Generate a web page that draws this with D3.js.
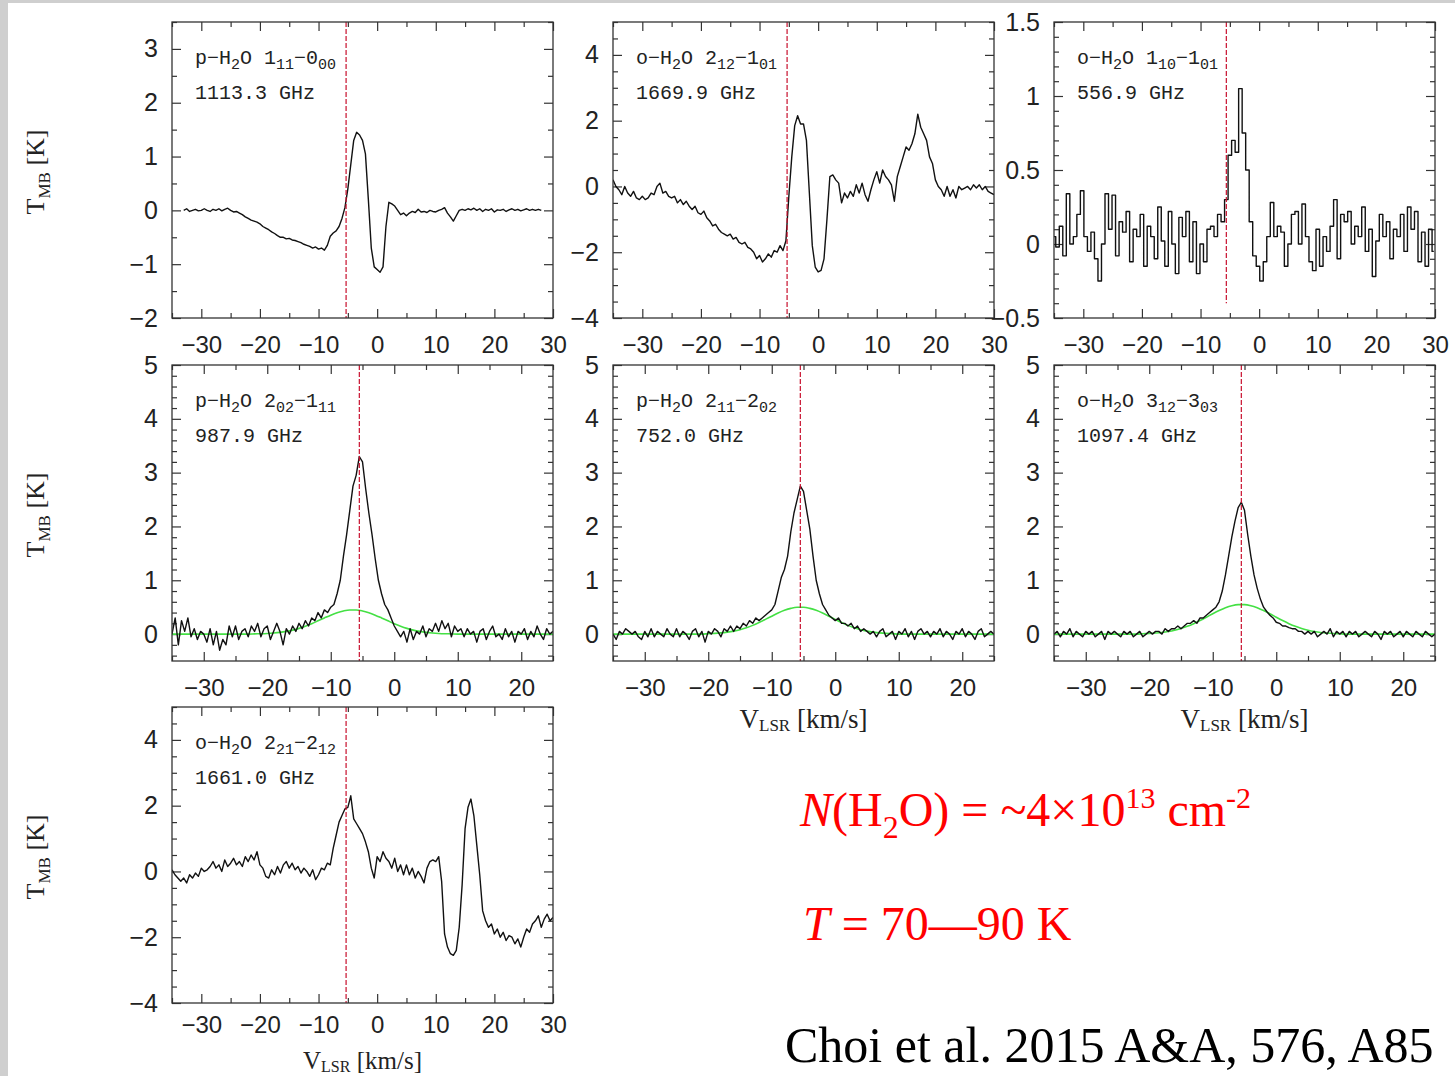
<!DOCTYPE html>
<html><head><meta charset="utf-8">
<script src="https://cdn.jsdelivr.net/npm/d3@7"></script>
<style>
body{margin:0;background:#fff;}
svg{display:block;}
</style></head><body>
<svg id="c" width="1455" height="1076"></svg>
<script>
// ---------------- DATA ----------------
const lineLabels = ["p−H_{2}O 1_{11}−0_{00}", "o−H_{2}O 2_{12}−1_{01}", "o−H_{2}O 1_{10}−1_{01}",
  "p−H_{2}O 2_{02}−1_{11}", "p−H_{2}O 2_{11}−2_{02}", "o−H_{2}O 3_{12}−3_{03}", "o−H_{2}O 2_{21}−2_{12}"];
const lineFreqs = ["1113.3 GHz", "1669.9 GHz", "556.9 GHz", "987.9 GHz", "752.0 GHz", "1097.4 GHz", "1661.0 GHz"];
const sourceVel = [-5.3, -5.3, -5.6, -5.5, -5.5, -5.5, -5.3];
const velDomains = [[-35, 30], [-35, 30], [-35, 30], [-35, 25], [-35, 25], [-35, 25], [-35, 30]];
const tempDomains = [[-2, 3.5], [-4, 5], [-0.5, 1.5], [-0.5, 5], [-0.5, 5], [-0.5, 5], [-4, 5]];
const velTicks = [[-30, -20, -10, 0, 10, 20, 30], [-30, -20, -10, 0, 10, 20, 30], [-30, -20, -10, 0, 10, 20, 30],
  [-30, -20, -10, 0, 10, 20], [-30, -20, -10, 0, 10, 20], [-30, -20, -10, 0, 10, 20], [-30, -20, -10, 0, 10, 20, 30]];
const tempTicks = [[-2, -1, 0, 1, 2, 3], [-4, -2, 0, 2, 4], [-0.5, 0, 0.5, 1, 1.5],
  [0, 1, 2, 3, 4, 5], [0, 1, 2, 3, 4, 5], [0, 1, 2, 3, 4, 5], [-4, -2, 0, 2, 4]];
const tempMinorStep = [0.5, 0.5, 0.1, 0.2, 0.2, 0.2, 0.5];
const velMinorStep = 5;

// spectra: first channel velocity and channel width (km/s), values T_MB [K]
const specStart = [-33, -35, -35, -35, -35, -35, -35];
const specStep = [0.5, 0.5, 0.6, 0.5, 0.5, 0.5, 0.5];

const spec1 = [
  0.0, 0.03, -0.02, 0.0, 0.02, -0.01, 0.0, 0.03, 0.0, -0.02, 0.02, 0.0, 0.03, -0.01, 0.02, 0.04, 0.0, -0.03, -0.02, -0.05,
  -0.08, -0.12, -0.15, -0.18, -0.2, -0.22, -0.25, -0.3, -0.33, -0.36, -0.4, -0.43, -0.47, -0.5, -0.5, -0.53, -0.52, -0.55, -0.56, -0.58,
  -0.6, -0.63, -0.65, -0.67, -0.7, -0.68, -0.72, -0.7, -0.74, -0.65, -0.48, -0.42, -0.38, -0.3, -0.15, 0.05, 0.4, 0.85, 1.3, 1.45,
  1.4, 1.3, 1.05, 0.2, -0.7, -1.05, -1.1, -1.15, -1.05, -0.3, 0.15, 0.12, 0.08, 0.0, -0.08, -0.05, -0.1, -0.05, -0.02, -0.04,
  0.02, -0.03, -0.02, -0.04, 0.0, -0.02, -0.03, 0.0, 0.02, 0.05, -0.05, -0.12, -0.2, -0.1, 0.0, 0.02, 0.0, 0.03, 0.01, 0.04,
  0.0, 0.03, -0.02, 0.02, 0.0, 0.03, -0.03, 0.01, 0.0, 0.02, -0.02, 0.01, 0.03, 0.0, 0.02, -0.01, 0.01, 0.03, 0.0, 0.02,
  0.0, 0.02, 0.0];

const spec2 = [
  0.2, 0.0, -0.1, -0.25, 0.0, -0.2, -0.3, -0.15, -0.35, -0.4, -0.3, -0.4, -0.35, -0.2, -0.25, 0.0, 0.1, -0.2, -0.15, -0.3,
  -0.35, -0.3, -0.5, -0.4, -0.55, -0.45, -0.6, -0.7, -0.6, -0.8, -0.85, -0.75, -0.95, -1.05, -1.2, -1.15, -1.3, -1.4, -1.45, -1.5,
  -1.45, -1.6, -1.55, -1.7, -1.75, -1.7, -1.85, -1.9, -2.0, -2.2, -2.1, -2.3, -2.2, -2.05, -2.15, -1.95, -2.0, -1.8, -1.95, -1.65,
  -0.3, 0.9, 1.85, 2.15, 1.9, 1.9, 1.4, -0.2, -1.8, -2.45, -2.6, -2.55, -2.2, -1.0, 0.3, 0.35, 0.2, 0.1, -0.5, -0.2,
  -0.35, -0.15, -0.3, 0.05, -0.2, 0.1, -0.25, -0.45, -0.1, 0.2, 0.45, 0.1, 0.5, 0.3, 0.2, 0.05, -0.45, 0.3, 0.6, 0.9,
  1.2, 1.1, 1.3, 1.6, 2.2, 1.8, 1.6, 1.4, 0.9, 0.7, 0.2, 0.0, -0.1, -0.3, 0.0, -0.3, -0.1, -0.35, 0.0, -0.1,
  -0.05, 0.0, -0.1, 0.05, -0.05, 0.05, -0.1, 0.0, -0.15, -0.2,
  -0.25];

const spec3 = [
  0.05, -0.02, 0.12, -0.08, 0.34, 0.0, 0.05, 0.2, 0.36, 0.05,
  -0.05, 0.08, -0.1, -0.25, 0.0, 0.34, 0.1, 0.33, -0.08, 0.15,
  0.08, 0.22, -0.12, 0.1, 0.05, 0.2, -0.15, 0.12, 0.05, -0.1,
  0.25, 0.02, -0.15, 0.22, 0.0, -0.2, 0.18, 0.05, 0.22, -0.12,
  0.15, -0.2, 0.0, -0.12, 0.1, 0.12, 0.05, 0.2, 0.15, 0.3,
  0.6, 0.7, 0.62, 1.05, 0.75, 0.5, 0.15, -0.08, -0.15, -0.25,
  -0.12, 0.05, 0.28, 0.05, 0.12, 0.08, -0.15, 0.0, 0.2, 0.22,
  0.0, 0.27, 0.05, -0.12, -0.18, 0.1, -0.15, 0.05, -0.05, 0.12,
  0.3, -0.1, 0.2, 0.15, 0.22, 0.0, 0.12, 0.05, 0.25, -0.05,
  0.1, -0.22, 0.02, 0.2, 0.05, 0.15, -0.1, 0.1, 0.05, 0.2,
  -0.05, 0.25, 0.1, 0.22, -0.12, 0.08, -0.15, 0.1, -0.05];

const spec4 = [
  0.0, 0.3, -0.2, 0.25, 0.05, 0.3, -0.05, 0.1, -0.1, 0.05, 0.0, -0.15, 0.1, -0.2, 0.05, -0.3, -0.1, -0.2, 0.15, -0.05,
  0.15, -0.1, 0.05, 0.1, -0.05, 0.15, 0.05, 0.2, -0.05, 0.1, 0.15, -0.1, 0.05, 0.2, 0.05, -0.2, 0.1, 0.0, 0.15, 0.05,
  0.2, 0.1, 0.25, 0.15, 0.3, 0.25, 0.4, 0.3, 0.45, 0.4, 0.5, 0.55, 0.75, 1.0, 1.45, 1.85, 2.3, 2.75, 2.95, 3.3,
  3.2, 2.7, 2.25, 1.85, 1.4, 1.0, 0.75, 0.55, 0.45, 0.3, 0.15, 0.05, -0.05, 0.05, -0.15, 0.1, -0.1, 0.05, 0.0, 0.15,
  -0.05, 0.1, 0.05, 0.2, 0.05, 0.25, 0.1, 0.2, -0.05, 0.15, 0.05, 0.1, -0.05, 0.1, 0.0, 0.05, -0.15, 0.05, 0.1, -0.1,
  0.05, 0.15, -0.05, 0.0, -0.1, 0.1, -0.05, 0.05, -0.15, 0.05, 0.0, 0.1, -0.1, 0.05, -0.05, 0.15, 0.0, -0.1, 0.1, 0.0,
  0.05];

const spec5 = [
  0.0, -0.1, 0.05, 0.0, 0.1, 0.05, 0.0, 0.05, -0.05, -0.1, 0.05, -0.05, 0.1, -0.05, 0.05, 0.0, -0.05, 0.1, 0.0, -0.05,
  0.1, -0.05, 0.05, 0.0, -0.1, 0.05, 0.1, -0.05, 0.05, -0.15, 0.05, 0.0, 0.1, 0.05, -0.05, 0.1, 0.05, 0.15, 0.05, 0.15,
  0.1, 0.2, 0.15, 0.25, 0.2, 0.3, 0.25, 0.3, 0.35, 0.4, 0.45, 0.55, 0.8, 1.05, 1.2, 1.45, 1.9, 2.25, 2.5, 2.75,
  2.65, 2.3, 1.95, 1.45, 1.0, 0.75, 0.55, 0.45, 0.35, 0.3, 0.25, 0.3, 0.2, 0.2, 0.15, 0.2, 0.1, 0.15, 0.05, 0.1,
  0.05, 0.0, 0.05, -0.05, 0.05, 0.1, -0.05, 0.0, 0.05, -0.1, 0.05, 0.0, 0.1, -0.05, 0.05, -0.1, 0.05, 0.1, 0.0, 0.05,
  -0.05, 0.05, 0.0, 0.1, -0.05, 0.05, 0.0, -0.1, 0.05, 0.0, 0.1, -0.05, 0.05, 0.0, -0.1, 0.05, 0.1, -0.05, 0.0, 0.05,
  0.0];

const spec6 = [
  0.0, 0.05, -0.05, 0.05, 0.0, 0.1, -0.05, 0.05, 0.0, -0.05, 0.05, 0.0, 0.05, -0.05, 0.0, 0.05, -0.1, 0.05, 0.0, 0.05,
  0.0, -0.05, 0.05, 0.0, 0.05, -0.05, 0.0, 0.05, -0.05, 0.0, 0.05, 0.0, 0.05, 0.05, 0.0, 0.1, 0.05, 0.1, 0.1, 0.15,
  0.1, 0.15, 0.2, 0.2, 0.25, 0.2, 0.3, 0.3, 0.35, 0.4, 0.45, 0.5, 0.6, 0.8, 1.1, 1.45, 1.8, 2.1, 2.35, 2.45,
  2.3, 1.85, 1.45, 1.1, 0.85, 0.65, 0.5, 0.42, 0.35, 0.3, 0.22, 0.2, 0.15, 0.15, 0.12, 0.1, 0.1, 0.05, 0.05, 0.0,
  0.05, 0.0, 0.05, -0.05, 0.0, 0.05, 0.0, 0.1, -0.05, 0.05, 0.0, 0.05, -0.05, 0.05, 0.0, 0.05, -0.05, 0.0, 0.05, 0.0,
  -0.05, 0.05, 0.0, -0.1, 0.05, 0.0, 0.05, -0.05, 0.0, 0.05, -0.05, 0.05, 0.0, -0.05, 0.05, 0.0, -0.05, 0.05, 0.0, -0.05,
  0.0];

const spec7 = [
  0.05, -0.1, -0.2, -0.3, -0.2, -0.35, -0.1, -0.2, -0.05, -0.15, 0.1, 0.0, 0.05, 0.15, 0.3, 0.1, 0.2, 0.0, 0.35, 0.15,
  0.25, 0.4, 0.2, 0.3, 0.15, 0.45, 0.3, 0.5, 0.35, 0.6, 0.2, 0.1, -0.15, -0.2, 0.05, -0.1, 0.15, -0.05, 0.2, 0.3,
  0.1, 0.25, 0.05, 0.15, -0.05, 0.1, 0.0, -0.15, 0.05, -0.25, -0.1, 0.1, 0.05, 0.25, 0.2, 0.7, 1.1, 1.5, 1.7, 1.9,
  1.95, 2.3, 1.6, 1.45, 1.3, 1.15, 0.9, 0.6, 0.1, -0.2, 0.45, 0.3, 0.6, 0.4, 0.3, 0.1, 0.4, 0.0, 0.2, -0.1,
  0.2, -0.1, 0.1, -0.2, 0.0, -0.15, -0.35, 0.1, 0.3, 0.35, 0.3, 0.45, -0.3, -1.9, -2.3, -2.5, -2.55, -2.4, -1.7, -0.4,
  1.3, 1.95, 2.2, 1.7, 0.8, -0.1, -1.2, -1.5, -1.7, -1.6, -1.9, -1.75, -2.0, -1.85, -2.1, -1.95, -2.0, -2.2, -2.05, -2.3,
  -2.0, -1.75, -1.85, -1.6, -1.5, -1.35, -1.7, -1.45, -1.3, -1.5,
  -1.4];

const spectra = [spec1, spec2, spec3, spec4, spec5, spec6, spec7];

// green Gaussian fits (broad component), sampled every 1 km/s from -35 to 25
const fitStart = -35, fitStep = 1;
const fit4 = [0, 0, 0, 0, 0, 0, 0, 0, 0, 0, 0, 0, 0, 0.004, 0.007, 0.012, 0.02, 0.032, 0.05, 0.074,
  0.106, 0.146, 0.193, 0.246, 0.30, 0.352, 0.397, 0.43, 0.448, 0.448, 0.43, 0.397, 0.352, 0.30, 0.246, 0.193, 0.146, 0.106, 0.074, 0.05,
  0.032, 0.02, 0.012, 0.007, 0.004, 0, 0, 0, 0, 0, 0, 0, 0, 0, 0, 0, 0, 0, 0, 0, 0];
const fit5 = [0, 0, 0, 0, 0, 0, 0, 0, 0, 0, 0, 0, 0, 0, 0, 0.008, 0.013, 0.022, 0.036, 0.055,
  0.082, 0.118, 0.162, 0.215, 0.273, 0.333, 0.391, 0.441, 0.478, 0.498, 0.498, 0.478, 0.441, 0.391, 0.333, 0.273, 0.215, 0.162, 0.118, 0.082,
  0.055, 0.036, 0.022, 0.013, 0.008, 0, 0, 0, 0, 0, 0, 0, 0, 0, 0, 0, 0, 0, 0, 0, 0];
const fit6 = [0, 0, 0, 0, 0, 0, 0, 0, 0, 0, 0, 0, 0, 0, 0.006, 0.011, 0.019, 0.030, 0.047, 0.071,
  0.104, 0.144, 0.194, 0.252, 0.314, 0.378, 0.438, 0.490, 0.528, 0.547, 0.547, 0.528, 0.490, 0.438, 0.378, 0.314, 0.252, 0.194, 0.144, 0.104,
  0.071, 0.047, 0.030, 0.019, 0.011, 0.006, 0, 0, 0, 0, 0, 0, 0, 0, 0, 0, 0, 0, 0, 0, 0];
const fits = [null, null, null, fit4, fit5, fit6, null];

// ---------------- LAYOUT ----------------
const colX = [172, 613, 1054];
const rowY = [22, 365, 707];
const PW = 381, PH = 296;
const grid = [[0, 0], [0, 1], [0, 2], [1, 0], [1, 1], [1, 2], [2, 0]];
const xTitleOffset = [null, null, null, null, 67, 67, 66];
const xTitleSize = [27, 27, 27, 27, 27, 27, 25];
const xTickPad = [18, 18, 18, 18, 18, 18, 13];
const redLineBottom = [null, null, -0.4, null, null, null, null];
const stepped = [false, false, true, false, false, false, false];

const svg = d3.select("#c");
svg.append("rect").attr("width", 1455).attr("height", 1076).attr("fill", "#fff");
svg.append("rect").attr("x", 0).attr("y", 0).attr("width", 8).attr("height", 1076).attr("fill", "#cfcfcf");
svg.append("rect").attr("x", 0).attr("y", 0).attr("width", 1455).attr("height", 3).attr("fill", "#cfcfcf");

const tickFont = "'Liberation Sans', Arial, sans-serif";
const labFont = "'Liberation Mono', 'DejaVu Sans Mono', monospace";
const serif = "'Liberation Serif', 'Times New Roman', serif";

function addSubText(sel, str, subSize) {
  const parts = str.split(/(_\{[^}]*\})/).filter(s => s.length);
  let pendingUp = 0;
  parts.forEach(p => {
    if (p.startsWith("_{")) {
      sel.append("tspan").attr("font-size", subSize).attr("dy", 5 + (pendingUp ? -pendingUp : 0)).text(p.slice(2, -1));
      pendingUp = 5;
    } else {
      const t = sel.append("tspan").text(p);
      if (pendingUp) { t.attr("dy", -pendingUp); pendingUp = 0; }
    }
  });
}

spectra.forEach((vals, i) => {
  const [r, c] = grid[i];
  const g = svg.append("g").attr("transform", `translate(${colX[c]},${rowY[r]})`);
  const x = d3.scaleLinear().domain(velDomains[i]).range([0, PW]);
  const y = d3.scaleLinear().domain(tempDomains[i]).range([PH, 0]);

  const vel = d3.range(vals.length).map(k => specStart[i] + k * specStep[i]);
  const pts = vals.map((t, k) => [vel[k], t]).filter(d => d[0] <= velDomains[i][1] + 1e-6);

  const td = tempDomains[i];
  const minorY = d3.range(Math.ceil(td[0] / tempMinorStep[i]) * tempMinorStep[i], td[1] + 1e-6, tempMinorStep[i])
    .map(v => +v.toFixed(3)).filter(v => !tempTicks[i].some(t => Math.abs(t - v) < 1e-6));
  const vd = velDomains[i];
  const minorX = d3.range(Math.ceil(vd[0] / velMinorStep) * velMinorStep, vd[1] + 1e-6, velMinorStep)
    .filter(v => !velTicks[i].includes(v));

  const fmtY = d => (Math.abs(d) < 1e-9 ? "0" : d3.format("~g")(d).replace("-", "−"));

  const axStyle = a => a.call(s => s.select(".domain").remove())
    .call(s => s.selectAll("line").attr("stroke", "#333").attr("stroke-width", 1.2));
  const noText = a => a.call(s => s.selectAll("text").remove());

  g.append("g").attr("transform", `translate(0,${PH})`)
    .call(d3.axisBottom(x).tickValues(velTicks[i]).tickSize(-9).tickPadding(xTickPad[i]))
    .call(axStyle)
    .call(s => s.selectAll("text").attr("font-family", tickFont).attr("font-size", 24).attr("fill", "#222"));
  g.append("g").attr("transform", `translate(0,${PH})`)
    .call(d3.axisBottom(x).tickValues(minorX).tickSize(-5)).call(axStyle).call(noText);
  g.append("g").call(d3.axisTop(x).tickValues(velTicks[i]).tickSize(-9)).call(axStyle).call(noText);
  g.append("g").call(d3.axisTop(x).tickValues(minorX).tickSize(-5)).call(axStyle).call(noText);

  g.append("g")
    .call(d3.axisLeft(y).tickValues(tempTicks[i]).tickSize(-9).tickPadding(14).tickFormat(fmtY))
    .call(axStyle)
    .call(s => s.selectAll("text").attr("font-family", tickFont).attr("font-size", 25).attr("fill", "#222"));
  g.append("g").call(d3.axisLeft(y).tickValues(minorY).tickSize(-5)).call(axStyle).call(noText);
  g.append("g").attr("transform", `translate(${PW},0)`)
    .call(d3.axisRight(y).tickValues(tempTicks[i]).tickSize(-9)).call(axStyle).call(noText);
  g.append("g").attr("transform", `translate(${PW},0)`)
    .call(d3.axisRight(y).tickValues(minorY).tickSize(-5)).call(axStyle).call(noText);

  const cid = "clip" + i;
  g.append("clipPath").attr("id", cid).append("rect").attr("width", PW).attr("height", PH);
  const plot = g.append("g").attr("clip-path", `url(#${cid})`);

  if (fits[i]) {
    const fp = fits[i].map((t, k) => [fitStart + k * fitStep, t]);
    plot.append("path").datum(fp)
      .attr("fill", "none").attr("stroke", "#44e044").attr("stroke-width", 1.6)
      .attr("d", d3.line().x(d => x(d[0])).y(d => y(d[1])).curve(d3.curveMonotoneX));
  }

  plot.append("path").datum(pts)
    .attr("fill", "none").attr("stroke", "#111").attr("stroke-width", 1.4)
    .attr("stroke-linejoin", "round")
    .attr("d", d3.line().x(d => x(d[0])).y(d => y(d[1])).curve(stepped[i] ? d3.curveStep : d3.curveLinear));

  const yb = redLineBottom[i] == null ? PH : y(redLineBottom[i]);
  g.append("line").attr("x1", x(sourceVel[i])).attr("x2", x(sourceVel[i]))
    .attr("y1", 0).attr("y2", yb)
    .attr("stroke", "#c8102e").attr("stroke-width", 1.2).attr("stroke-dasharray", "5,2");

  g.append("rect").attr("width", PW).attr("height", PH)
    .attr("fill", "none").attr("stroke", "#333").attr("stroke-width", 1.3);

  const t1 = g.append("text").attr("x", 23).attr("y", 42)
    .attr("font-family", labFont).attr("font-size", 20).attr("fill", "#222");
  addSubText(t1, lineLabels[i], 15);
  g.append("text").attr("x", 23).attr("y", 77)
    .attr("font-family", labFont).attr("font-size", 20).attr("fill", "#222").text(lineFreqs[i]);

  if (xTitleOffset[i] != null) {
    const fs = xTitleSize[i];
    const tt = g.append("text").attr("x", PW / 2).attr("y", PH + xTitleOffset[i]).attr("text-anchor", "middle")
      .attr("font-family", serif).attr("font-size", fs).attr("fill", "#222");
    tt.append("tspan").text("V");
    tt.append("tspan").attr("font-size", Math.round(fs * 0.64)).attr("dy", 3).text("LSR");
    tt.append("tspan").attr("dy", -3).text(" [km/s]");
  }
});

rowY.forEach(ry => {
  const t = svg.append("text")
    .attr("transform", `translate(44,${ry + PH / 2 + 2}) rotate(-90)`)
    .attr("text-anchor", "middle")
    .attr("font-family", serif).attr("font-size", 26).attr("fill", "#222");
  t.append("tspan").text("T");
  t.append("tspan").attr("font-size", 17).attr("dy", 6).text("MB");
  t.append("tspan").attr("dy", -6).text(" [K]");
});

const n = svg.append("text").attr("x", 800).attr("y", 826)
  .attr("font-family", serif).attr("font-size", 48).attr("fill", "#ff0000");
n.append("tspan").attr("font-style", "italic").text("N");
n.append("tspan").text("(H");
n.append("tspan").attr("font-size", 32).attr("dy", 12).text("2");
n.append("tspan").attr("dy", -12).text("O) = ~4×10");
n.append("tspan").attr("font-size", 30).attr("dy", -18).text("13");
n.append("tspan").attr("dy", 18).text(" cm");
n.append("tspan").attr("font-size", 30).attr("dy", -18).text("-2");

const tline = svg.append("text").attr("x", 803).attr("y", 940)
  .attr("font-family", serif).attr("font-size", 48).attr("fill", "#ff0000");
tline.append("tspan").attr("font-style", "italic").text("T");
tline.append("tspan").text(" = 70—90 K");

svg.append("text").attr("x", 785).attr("y", 1062)
  .attr("font-family", serif).attr("font-size", 50).attr("fill", "#000")
  .text("Choi et al. 2015 A&A, 576, A85");
</script>
</body></html>
